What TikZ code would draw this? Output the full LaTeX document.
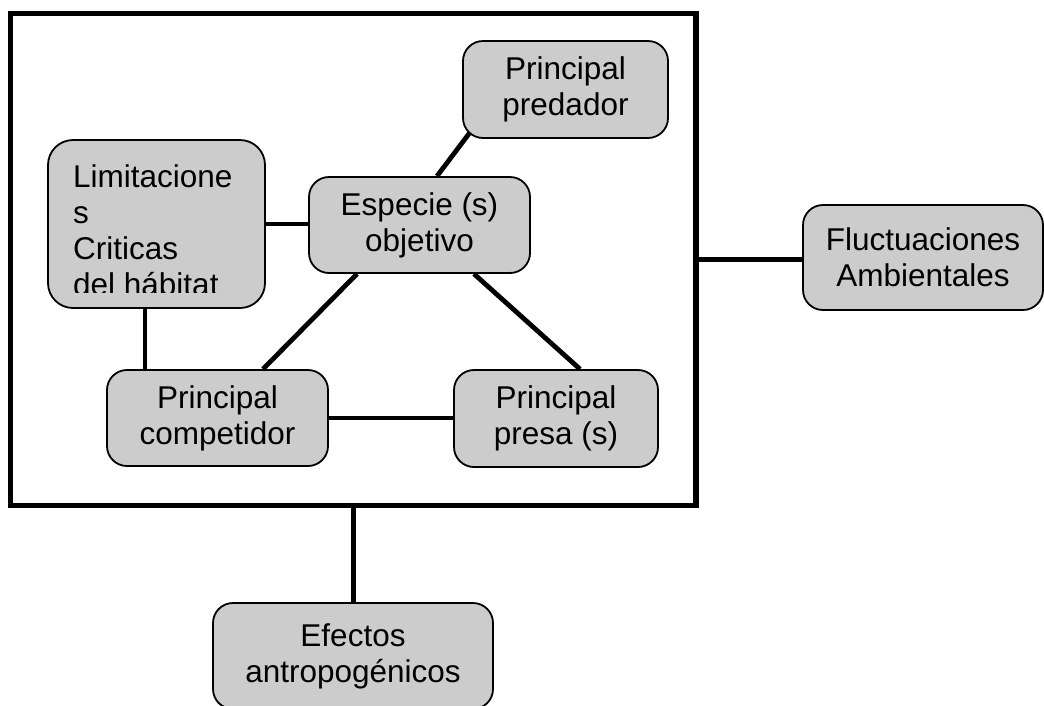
\documentclass[tikz,border=0pt]{standalone}
\usepackage{fontspec}
\setmainfont{Liberation Sans}
\usetikzlibrary{calc}
\definecolor{boxgray}{RGB}{204,204,204}
\pgfdeclarelayer{bg}
\pgfsetlayers{bg,main}
\tikzset{
  box/.style={draw=black, fill=boxgray, line width=1.8pt, rounded corners=20pt,
    inner sep=0pt, align=center, font=\fontsize{31.5}{36}\selectfont},
  link/.style={line width=4.8pt, black},
  frame/.style={draw=black, line width=5.5pt, inner sep=0pt}
}
\begin{document}
\begin{tikzpicture}[x=1pt, y=-1pt]
\useasboundingbox (0,0) rectangle (1044,705);
% outer frame
\node[frame, minimum width=685.5pt, minimum height=492pt] (frame) at (353.25,259.5) {};
% boxes
\node[box, minimum width=205pt, minimum height=97pt] (pred) at (565.5,89.5) {Principal\\predador};
\node[box, minimum width=217pt, minimum height=168pt, rounded corners=25pt] (lim) at (156.5,224) {};
\node[box, minimum width=221pt, minimum height=96pt] (esp) at (419.5,225) {Especie (s)\\objetivo};
\node[box, minimum width=221pt, minimum height=96pt] (comp) at (217.5,418) {Principal\\competidor};
\node[box, minimum width=204pt, minimum height=97pt] (presa) at (556,418.5) {Principal\\presa (s)};
\node[box, minimum width=240pt, minimum height=105pt] (flu) at (923,257.5) {Fluctuaciones\\Ambientales};
\node[box, minimum width=280pt, minimum height=106pt] (efe) at (353,656) {Efectos\\antropogénicos};
% clipped text of the habitat box
\begin{scope}
  \clip (lim.north west) rectangle (265,292);
  \node[anchor=north west, inner sep=0pt, align=left, font=\fontsize{31.5}{36}\selectfont] (limtext) at (73,164)
    {Limitacione\\s\\Criticas\\del hábitat};
\end{scope}
% connectors
\begin{pgfonlayer}{bg}
  \draw[link] (lim.east) -- (lim.east -| esp.west);
  \draw[link] ([xshift=-11.5pt]lim.south) -- ([xshift=-11.5pt]lim.south |- comp.north);
  \draw[link] ([xshift=-62.5pt]esp.south) -- ([xshift=45.5pt]comp.north);
  \draw[link] ([xshift=54.5pt]esp.south) -- ([xshift=24pt]presa.north);
  \draw[link] ([xshift=17.5pt]esp.north) -- ([xshift=9pt,yshift=8pt]pred.south west);
  \draw[link] (comp.east) -- (comp.east -| presa.west);
  \draw[link] (frame.east) -- (frame.east -| flu.west);
  \draw[link] (frame.south) -- (frame.south |- efe.north);
\end{pgfonlayer}
\end{tikzpicture}
\end{document}
